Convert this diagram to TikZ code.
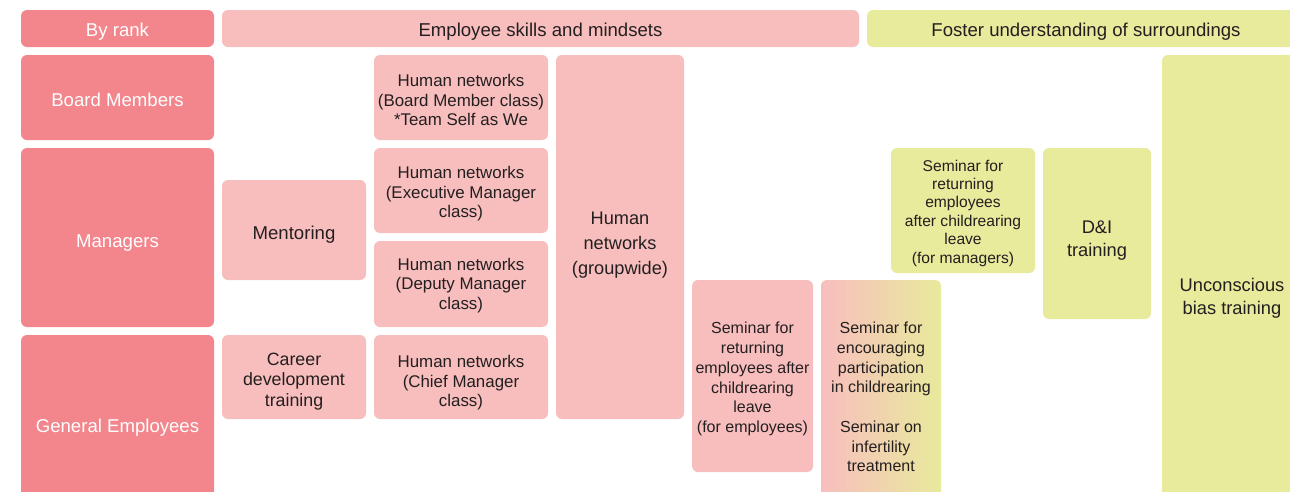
\documentclass[tikz,border=0pt]{standalone}
\usepackage{fontspec}
\setmainfont{Liberation Sans}
\definecolor{rankpink}{HTML}{F2868C}
\definecolor{skillpink}{HTML}{F8BEBE}
\definecolor{fosteryellow}{HTML}{E8EA9C}
\definecolor{inkdark}{HTML}{231F20}
% a strut on the first line that lowers the text in its box by #1 pt
\newcommand\dropby[1]{\rule{0pt}{\dimexpr0.73em+#1pt*2\relax}}
\begin{document}
\begin{tikzpicture}[x=1pt,y=-1pt,
  cell/.style={rounded corners=6pt, inner sep=0pt, align=center, text=inkdark},
  rankcell/.style={cell, fill=rankpink, text=white},
  skill/.style={cell, fill=skillpink},
  foster/.style={cell, fill=fosteryellow},
  blend/.style={cell, left color=skillpink, right color=fosteryellow},
  sz/.style 2 args={minimum width=#1pt, minimum height=#2pt},
  fhead/.style={font=\fontsize{18.6pt}{19.5pt}\selectfont},
  fbox/.style={font=\fontsize{16.9pt}{19.5pt}\selectfont},
  fwide/.style={font=\fontsize{18.3pt}{23.5pt}\selectfont},
  fsem/.style={font=\fontsize{16pt}{19.7pt}\selectfont},
  fsemm/.style={font=\fontsize{15.6pt}{18.4pt}\selectfont},
]
\useasboundingbox (0,0) rectangle (1290,491);
\clip (0,0) rectangle (1290,491);

% header row
\node[rankcell, fhead, sz={193}{37}] (rank) at (117.5,28.5) {\dropby{3}By rank};
\node[skill, fhead, sz={637}{37}] (skills) at (540.5,28.5) {\dropby{3}Employee skills and mindsets};
\node[foster, fhead, sz={438}{37}] (surround) at (1086,28.5) {\dropby{3}Foster understanding of surroundings};

% rank labels
\node[rankcell, fhead, sz={193}{85}] (board) at (117.5,97.5) {\dropby{2}Board Members};
\node[rankcell, fhead, sz={193}{179}] (managers) at (117.5,237.5) {\dropby{5}Managers};
\node[rankcell, fhead, sz={193}{180}] (general) at (117.5,425) {\dropby{3}General Employees};

% skills and mindsets
\node[skill, fhead, sz={144}{100}] (mentoring) at (294,230) {\dropby{5}Mentoring};
\node[skill, font=\fontsize{17.8pt}{20.5pt}\selectfont, sz={144}{84}] (career) at (294,377) {\dropby{4}Career\\development\\training};
\node[skill, fbox, sz={174}{85}] (hnboard) at (461,97.5) {\dropby{2.5}Human networks\\(Board Member class)\\*Team Self as We};
\node[skill, fbox, sz={174}{85}] (hnexec) at (461,190.5) {\dropby{3.5}Human networks\\(Executive Manager\\class)};
\node[skill, fbox, sz={174}{86}] (hndeputy) at (461,284) {\dropby{1.5}Human networks\\(Deputy Manager\\class)};
\node[skill, fbox, sz={174}{84}] (hnchief) at (461,377) {\dropby{6}Human networks\\(Chief Manager\\class)};
\node[skill, font=\fontsize{18.2pt}{25pt}\selectfont, sz={128}{364}] (hngroup) at (620,237) {\dropby{8}Human\\networks\\(groupwide)};
\node[skill, fsem, sz={121}{192}] (semret) at (752.5,376) {\dropby{3}Seminar for\\returning\\employees after\\childrearing\\leave\\(for employees)};
\node[blend, fsem, sz={120}{232}] (semenc) at (881,396) {\dropby{1}Seminar for\\encouraging\\participation\\in childrearing\\[19.7pt]Seminar on\\infertility\\treatment};

% understanding of surroundings
\node[foster, fsemm, sz={144}{125}] (semmgr) at (963,210.5) {\dropby{2.5}Seminar for\\returning\\employees\\after childrearing\\leave\\(for managers)};
\node[foster, fwide, sz={108}{171}] (dni) at (1097,233.5) {\dropby{6.5}D\&I\\training};
\node[foster, fwide, sz={140}{482}] (bias) at (1232,296) {\dropby{2}Unconscious\\bias training};
\end{tikzpicture}
\end{document}
